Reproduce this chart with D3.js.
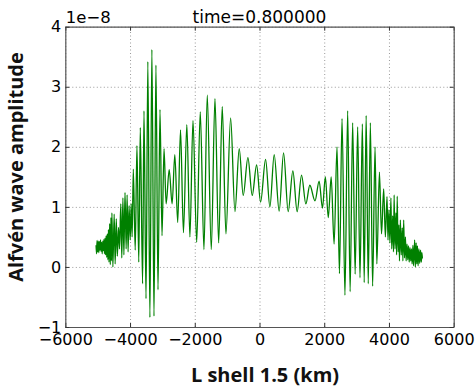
<!DOCTYPE html>
<html>
<head>
<meta charset="utf-8">
<script src="https://cdn.jsdelivr.net/npm/d3@7"></script>
<style>
  body { margin: 0; background: #fff; }
  .tick text { font-family: "DejaVu Sans", sans-serif; font-size: 16px; fill: #000; }
  .grid line { stroke: #999; stroke-dasharray: 1,2.5; }
  .grid path { display: none; }
</style>
</head>
<body>
<div class="alfvenGraph"></div>
<script>
// wave extrema: km along the shell, amplitude in units of 1e-8
var leftTailKm  = [-5050,-5035,-5018,-5000,-4982,-4965,-4947,-4930,-4912,-4895,-4877,-4860,-4842,-4825,-4807,-4790,-4772,-4755,-4737,-4720,-4702,-4685,-4667,-4650,-4630,-4610,-4590,-4575,-4560,-4530,-4490,-4460,-4425,-4393,-4355,-4325,-4285,-4255,-4220,-4190,-4155,-4120,-4090,-4060,-4030,-3995,-3965,-3935];
var leftTailAmp = [0.36,0.22,0.44,0.25,0.43,0.24,0.42,0.28,0.45,0.26,0.41,0.22,0.43,0.27,0.46,0.22,0.48,0.20,0.52,0.16,0.55,0.12,0.62,0.08,0.72,0.04,0.82,0.10,0.90,0.00,0.88,0.05,0.80,0.18,0.66,0.30,1.05,0.15,1.15,0.20,1.24,0.30,1.20,0.25,1.02,0.45,1.05,0.50];

var leftBurstKm  = [-3899,-3840,-3786,-3730,-3683,-3612,-3569,-3506,-3450,-3386,-3325,-3260,-3200,-3136,-3075,-3012,-2950,-2885,-2790,-2700,-2616,-2527,-2440,-2350,-2245,-2150];
var leftBurstAmp = [1.63,0.28,2.02,0.08,2.32,-0.28,2.60,-0.53,3.42,-0.84,3.62,-0.82,3.36,-0.38,2.62,0.52,1.97,1.05,1.62,1.05,1.87,0.74,2.28,0.57,2.37,0.50];

var middleKm  = [-2055,-1941,-1830,-1716,-1614,-1490,-1376,-1262,-1151,-1037,-892,-759,-626,-503,-358,-225,-89,34,188,321,454,608,744,886,1031,1163,1299,1432,1555,1715,1843,1945,2035,2125,2215,2305];
var middleAmp = [2.44,0.41,2.58,0.29,2.86,0.29,2.80,0.40,2.67,0.55,2.48,0.92,1.97,1.19,1.82,1.19,1.70,1.08,1.79,1.00,1.87,0.93,1.90,0.92,1.60,0.92,1.53,1.05,1.36,1.10,1.43,0.98,1.50,0.82,1.50,0.38];

var rightBurstKm  = [2395,2470,2550,2640,2724,2800,2878,2955,3033,3105,3178,3235,3295,3360,3425,3495,3570,3625,3705,3770];
var rightBurstAmp = [2.00,-0.11,2.47,-0.47,2.60,-0.41,2.40,-0.12,2.33,-0.18,2.38,-0.26,2.52,-0.28,2.40,-0.32,2.00,0.05,1.58,0.55];

var rightTailKm  = [3837,3889,3940,3970,4000,4030,4060,4085,4115,4140,4160,4185,4215,4235,4255,4280,4305,4325,4352,4380,4410,4430,4455,4480,4510,4530,4558,4580,4605,4625,4650,4672,4695,4715,4740,4760,4795,4815,4840,4860,4880,4900,4925,4950,4975,5000,5018,5033];
var rightTailAmp = [1.30,0.50,1.17,0.45,0.95,0.40,1.15,0.30,0.85,0.25,1.20,0.30,0.90,0.20,1.18,0.25,0.70,0.10,0.78,0.20,0.65,0.10,0.78,0.15,0.50,0.10,0.38,0.12,0.35,0.08,0.32,0.10,0.30,0.05,0.36,0.02,0.45,0.00,0.40,0.05,0.35,0.02,0.30,0.06,0.28,0.08,0.24,0.14];

var xTicks = [-6000,-4000,-2000,0,2000,4000,6000];
var yTicks = [-1,0,1,2,3,4];
var titleText = "time=0.800000";
var offsetText = "1e\u22128";
var xLabel = "L shell 1.5 (km)";
var yLabel = "Alfvén wave amplitude";

var margin = {top: 26.7, right: 21.3, bottom: 64, left: 65.3};
var width = 475 - margin.left - margin.right;
var height = 391 - margin.top - margin.bottom;

var xScale = d3.scaleLinear()
  .domain([-6000, 6000])
  .range([0, width]);

var yScale = d3.scaleLinear()
  .domain([-1, 4])
  .range([height, 0]);

var dataset = [];
[[leftTailKm, leftTailAmp], [leftBurstKm, leftBurstAmp], [middleKm, middleAmp],
 [rightBurstKm, rightBurstAmp], [rightTailKm, rightTailAmp]].forEach(function(seg) {
  seg[0].forEach(function(km, i) {
    dataset.push({km: km, amp: seg[1][i]});
  });
});

var svg = d3.select(".alfvenGraph").append("svg")
  .attr("width", 475)
  .attr("height", 391)
  .append("g")
  .attr("transform", "translate(" + margin.left + "," + margin.top + ")");

// dotted grid
svg.append("g")
  .attr("class", "grid")
  .attr("transform", "translate(0," + height + ")")
  .call(d3.axisBottom(xScale).tickValues(xTicks).tickSize(-height).tickFormat(""));
svg.append("g")
  .attr("class", "grid")
  .call(d3.axisLeft(yScale).tickValues(yTicks).tickSize(-width).tickFormat(""));

// the wave
var line = d3.line()
  .x(function(d) { return xScale(d.km); })
  .y(function(d) { return yScale(d.amp); })
  .curve(d3.curveMonotoneX);

svg.append("path")
  .datum(dataset)
  .attr("fill", "none")
  .attr("stroke", "#008000")
  .attr("stroke-width", 1.3)
  .attr("stroke-linejoin", "round")
  .attr("d", line);

// axes, ticks pointing inward on all four sides
var fmt = d3.format("d");
function styleAxis(g) {
  g.selectAll("path").attr("stroke", "#555").attr("stroke-width", 1.2);
  g.selectAll(".tick line").attr("stroke", "#333");
}

svg.append("g")
  .attr("transform", "translate(0," + height + ")")
  .call(d3.axisBottom(xScale).tickValues(xTicks).tickFormat(fmt).tickSizeInner(-4).tickSizeOuter(0).tickPadding(6.5))
  .call(styleAxis);
svg.append("g")
  .call(d3.axisTop(xScale).tickValues(xTicks).tickFormat("").tickSizeInner(-4).tickSizeOuter(0))
  .call(styleAxis);
svg.append("g")
  .call(d3.axisLeft(yScale).tickValues(yTicks).tickFormat(fmt).tickSizeInner(-4).tickSizeOuter(0).tickPadding(4))
  .call(styleAxis);
svg.append("g")
  .attr("transform", "translate(" + width + ",0)")
  .call(d3.axisRight(yScale).tickValues(yTicks).tickFormat("").tickSizeInner(-4).tickSizeOuter(0))
  .call(styleAxis);

svg.selectAll(".tick text").attr("font-family", "DejaVu Sans").attr("font-size", 16);

// texts
svg.append("text")
  .attr("x", width / 2)
  .attr("y", -4)
  .attr("text-anchor", "middle")
  .attr("font-family", "DejaVu Sans")
  .attr("font-size", 17)
  .text(titleText);

svg.append("text")
  .attr("x", 0.5)
  .attr("y", -3.5)
  .attr("font-family", "DejaVu Sans")
  .attr("font-size", 16.5)
  .text(offsetText);

svg.append("text")
  .attr("x", 265 - margin.left)
  .attr("y", 382 - margin.top)
  .attr("text-anchor", "middle")
  .attr("font-family", "Open Sans")
  .attr("font-weight", "bold")
  .attr("font-size", 20)
  .attr("fill", "#111")
  .text(xLabel);

svg.append("text")
  .attr("transform", "translate(" + (23 - margin.left) + "," + (167 - margin.top) + ") rotate(-90)")
  .attr("text-anchor", "middle")
  .attr("font-family", "Open Sans")
  .attr("font-weight", "bold")
  .attr("font-size", 20)
  .attr("fill", "#111")
  .text(yLabel);
</script>
</body>
</html>
